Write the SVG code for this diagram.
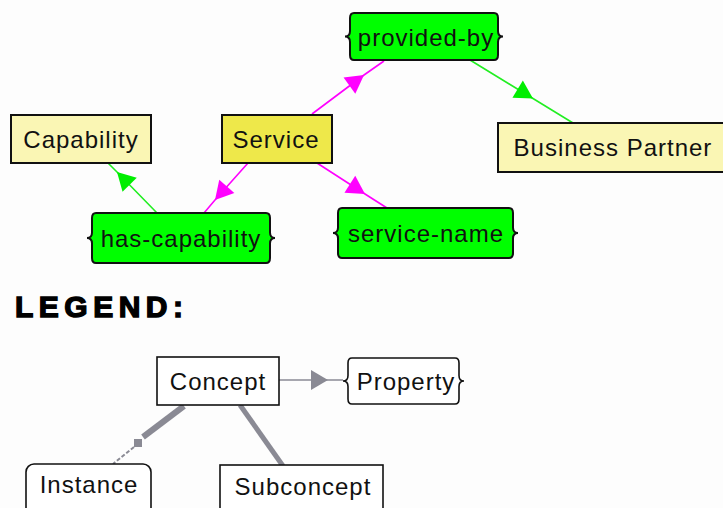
<svg xmlns="http://www.w3.org/2000/svg" width="723" height="508" viewBox="0 0 723 508">
  <style>
    .lbl { font-family: "Liberation Sans", Arial, sans-serif; font-size: 24px; letter-spacing: 1px; fill: #111; text-anchor: middle; }
    .prop { fill: #00ff00; stroke: #111; stroke-width: 2; }
    .concept { fill: #faf6b4; stroke: #111; stroke-width: 2; }
    .focus { fill: #eee84a; stroke: #111; stroke-width: 2; }
    .leg { fill: #ffffff; stroke: #111; stroke-width: 1.6; }
    .mag { fill: none; stroke: #ff00ff; stroke-width: 1.6; marker-mid: url(#arrMag); }
    .grn { fill: none; stroke: #22ee22; stroke-width: 1.6; marker-mid: url(#arrGrn); }
    .gry { fill: none; stroke: #8a8a94; }
  </style>
  <defs>
    <marker id="arrMag" viewBox="-19 -11 20 22" markerWidth="20" markerHeight="22" refX="0" refY="0" orient="auto" markerUnits="userSpaceOnUse">
      <path d="M0,0 L-18,-10 L-18,10 Z" fill="#ff00ff"/>
    </marker>
    <marker id="arrGrn" viewBox="-19 -11 20 22" markerWidth="20" markerHeight="22" refX="0" refY="0" orient="auto" markerUnits="userSpaceOnUse">
      <path d="M0,0 L-18,-10 L-18,10 Z" fill="#00ee00"/>
    </marker>
    <marker id="arrGry" viewBox="-19 -11 20 22" markerWidth="20" markerHeight="22" refX="0" refY="0" orient="auto" markerUnits="userSpaceOnUse">
      <path d="M0,0 L-17,-10 L-17,10 Z" fill="#8a8a94"/>
    </marker>
  </defs>

  <rect x="0" y="0" width="723" height="508" fill="#fdfdfd"/>

  <!-- connectors -->
  <g id="connectors">
    <path class="mag" d="M312,114 L364,75 L384,61"/>
    <path class="grn" d="M470,60 L533,98.5 L573,123"/>
    <path class="mag" d="M248,163 L215,200 L204,213"/>
    <path class="grn" d="M157,213 L117,172 L108,163"/>
    <path class="mag" d="M317,163 L365,194 L387,208"/>

    <!-- legend connectors -->
    <path class="gry" stroke-width="1.6" d="M279,380 L328,380 L343,380" marker-mid="url(#arrGry)"/>
    <line class="gry" x1="184" y1="406" x2="143" y2="437" stroke-width="6"/>
    <rect x="134" y="439" width="8" height="8" fill="#8a8a94"/>
    <line class="gry" x1="134" y1="447" x2="113" y2="464" stroke-width="2" stroke-dasharray="4 2"/>
    <line class="gry" x1="240" y1="405" x2="283" y2="466" stroke-width="5"/>
  </g>

  <!-- main nodes -->
  <g id="provided-by">
    <path class="prop" d="M354,13 H494 Q498,13 498,18 V31 Q498,36.5 503,36.5 Q498,36.5 498,42 V55 Q498,60 494,60 H354 Q350,60 350,55 V42 Q350,36.5 345,36.5 Q350,36.5 350,31 V18 Q350,13 354,13 Z"/>
    <text class="lbl" x="426" y="46">provided-by</text>
  </g>
  <g id="capability">
    <rect class="concept" x="11" y="115" width="140" height="48"/>
    <text class="lbl" x="81" y="148">Capability</text>
  </g>
  <g id="service">
    <rect class="focus" x="222" y="115" width="110" height="48"/>
    <text class="lbl" x="276" y="148">Service</text>
  </g>
  <g id="business-partner">
    <rect class="concept" x="498" y="123" width="230" height="49"/>
    <text class="lbl" x="613" y="156">Business Partner</text>
  </g>
  <g id="has-capability">
    <path class="prop" d="M96,213 H266 Q270,213 270,218 V232.5 Q270,238 275,238 Q270,238 270,243.5 V258 Q270,263 266,263 H96 Q92,263 92,258 V243.5 Q92,238 87,238 Q92,238 92,232.5 V218 Q92,213 96,213 Z"/>
    <text class="lbl" x="181" y="247">has-capability</text>
  </g>
  <g id="service-name">
    <path class="prop" d="M342,208 H509 Q513,208 513,213 V227.5 Q513,233 518,233 Q513,233 513,238.5 V253 Q513,258 509,258 H342 Q338,258 338,253 V238.5 Q338,233 333,233 Q338,233 338,227.5 V213 Q338,208 342,208 Z"/>
    <text class="lbl" x="426" y="242">service-name</text>
  </g>

  <!-- legend -->
  <text x="15" y="317" font-family="'Liberation Sans', Arial, sans-serif" font-size="30" font-weight="bold" letter-spacing="5.5" fill="#000" stroke="#000" stroke-width="1.4">LEGEND:</text>

  <g id="legend-concept">
    <rect class="leg" x="157" y="357" width="122" height="48"/>
    <text class="lbl" x="218" y="390">Concept</text>
  </g>
  <g id="legend-property">
    <path class="leg" d="M352,358 H455 Q459,358 459,363 V375.5 Q459,381 464,381 Q459,381 459,386.5 V399 Q459,404 455,404 H352 Q348,404 348,399 V386.5 Q348,381 343,381 Q348,381 348,375.5 V363 Q348,358 352,358 Z"/>
    <text class="lbl" x="406" y="390">Property</text>
  </g>
  <g id="legend-instance">
    <rect class="leg" x="26" y="464" width="125" height="56" rx="8" ry="8"/>
    <text class="lbl" x="89" y="493">Instance</text>
  </g>
  <g id="legend-subconcept">
    <rect class="leg" x="220" y="465" width="163" height="56"/>
    <text class="lbl" x="303" y="495">Subconcept</text>
  </g>
</svg>
